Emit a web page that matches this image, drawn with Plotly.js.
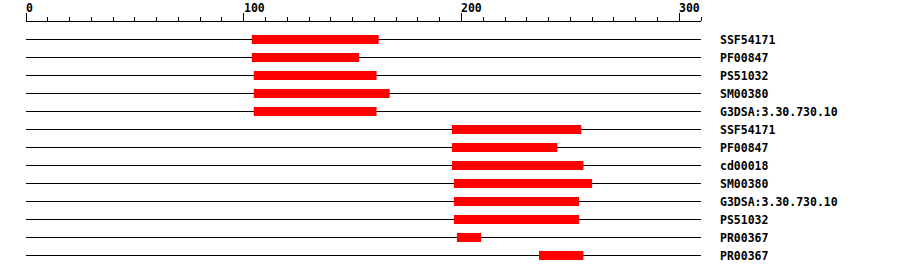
<!DOCTYPE html>
<html>
<head>
<meta charset="utf-8">
<script src="https://cdn.plot.ly/plotly-3.0.1.min.js"></script>
<style>html,body{margin:0;padding:0;background:#fff;}#chart{width:900px;height:274px;}</style>
</head>
<body>
<div id="chart"></div>
<script>
const proteinLength = 310;
const labels = ["SSF54171","PF00847","PS51032","SM00380","G3DSA:3.30.730.10","SSF54171","PF00847","cd00018","SM00380","G3DSA:3.30.730.10","PS51032","PR00367","PR00367"];
const starts = [103.7,103.7,104.6,104.6,104.6,195.6,195.6,195.6,196.5,196.5,196.5,197.9,235.6];
const ends   = [162,153,161,167,161,255,244,256,260,254,254,209,256];
const tickValues = [0,100,200,300];
const tickLabels = ["0","100","200","300"];

const rows = labels.map((_, i) => i);
const font = {family: "DejaVu Sans Mono", size: 11.5, color: "#000", weight: "bold"};

const lineTrace = {
  type: "bar", orientation: "h",
  y: rows, base: rows.map(() => 0), x: rows.map(() => proteinLength),
  width: 1/18, marker: {color: "#000", line: {width: 0}},
  hoverinfo: "skip"
};
const domainTrace = {
  type: "bar", orientation: "h",
  y: rows, base: starts, x: ends.map((e, i) => e - starts[i]),
  width: 0.5, marker: {color: "#ff0000", line: {width: 0}},
  hoverinfo: "skip"
};

const annotations = tickValues.map((v, i) => ({
  x: v, xref: "x", y: 1.0558, yref: "paper",
  text: tickLabels[i], showarrow: false, xanchor: "left", yanchor: "middle",
  xshift: -2, font: font
}));

const layout = {
  width: 900, height: 274,
  margin: {l: 26, r: 199, t: 22, b: 10},
  paper_bgcolor: "#fff", plot_bgcolor: "#fff",
  showlegend: false, hovermode: false, barmode: "overlay",
  xaxis: {
    side: "top", anchor: "y", range: [0, proteinLength],
    showline: true, linecolor: "#000", linewidth: 1,
    ticks: "outside", tickvals: tickValues, ticklen: 8, tickwidth: 1, tickcolor: "#000",
    showticklabels: false, showgrid: false, zeroline: false, fixedrange: true,
    minor: {tick0: 0, dtick: 10, ticks: "outside", ticklen: 4, tickwidth: 1, tickcolor: "#000", showgrid: false}
  },
  xaxis2: {
    overlaying: "x", side: "top", anchor: "y", range: [0, proteinLength],
    showline: false, ticks: "inside", tickvals: tickValues, ticklen: 7, tickwidth: 1, tickcolor: "#000",
    showticklabels: false, showgrid: false, zeroline: false, fixedrange: true,
    minor: {tick0: 0, dtick: 10, ticks: "inside", ticklen: 3, tickwidth: 1, tickcolor: "#000", showgrid: false}
  },
  yaxis: {
    side: "right", range: [12.472, -0.9722],
    tickvals: rows, ticktext: labels, tickfont: font, ticks: "",
    ticklabelstandoff: 18,
    showline: false, showgrid: false, zeroline: false, fixedrange: true
  },
  annotations: annotations
};

Plotly.newPlot("chart", [lineTrace, domainTrace], layout, {staticPlot: true, displayModeBar: false});
</script>
</body>
</html>
